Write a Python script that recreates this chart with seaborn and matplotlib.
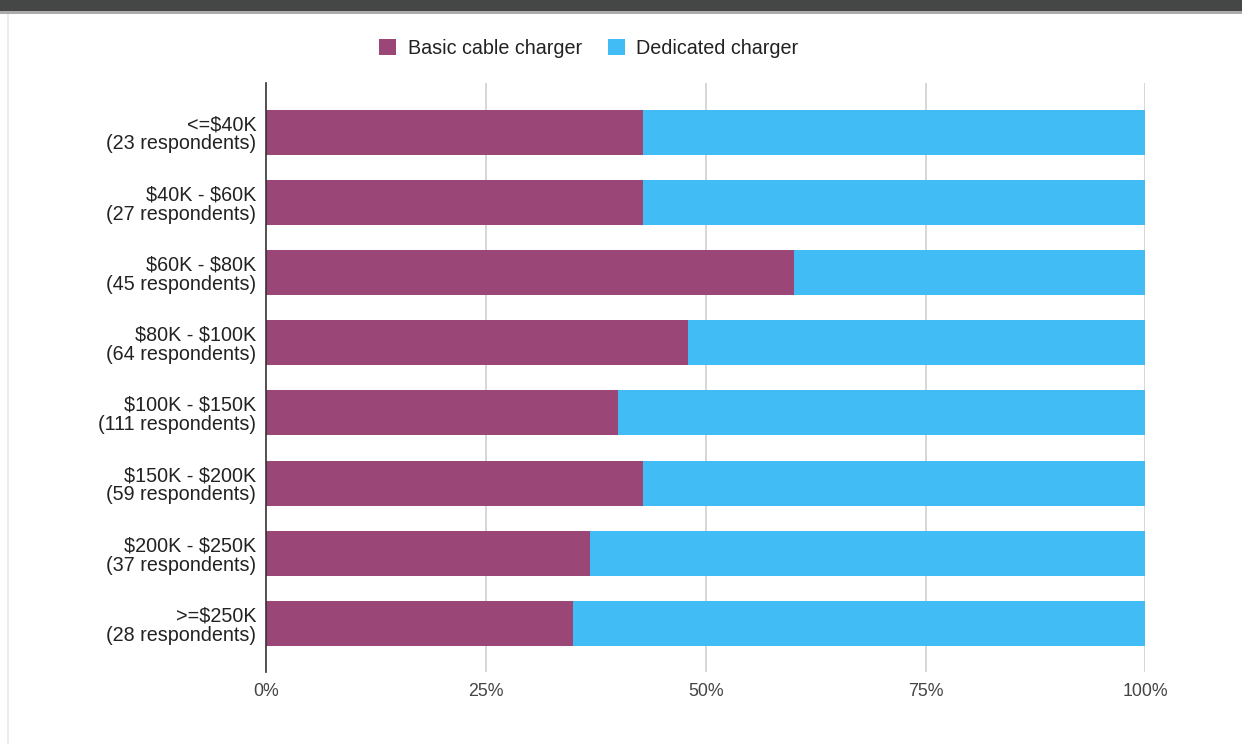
import matplotlib
matplotlib.use("Agg")
import matplotlib.pyplot as plt
from matplotlib.patches import Rectangle, Patch
from matplotlib.ticker import FuncFormatter
import seaborn as sns
import pandas as pd

# Survey results: share of each charger type by household income bracket
income_brackets = ["<=$40K", "$40K - $60K", "$60K - $80K", "$80K - $100K",
                   "$100K - $150K", "$150K - $200K", "$200K - $250K", ">=$250K"]
respondents = [23, 27, 45, 64, 111, 59, 37, 28]
basic_pct = [42.9, 42.9, 60.0, 48.0, 40.0, 42.9, 36.9, 34.9]
dedicated_pct = [57.1, 57.1, 40.0, 52.0, 60.0, 57.1, 63.1, 65.1]
x_ticks = [0, 25, 50, 75, 100]

series_names = ["Basic cable charger", "Dedicated charger"]
PURPLE = "#9a4677"
CYAN = "#42bcf5"

labels = [f"{b}\n({n} respondents)" for b, n in zip(income_brackets, respondents)]
df = pd.DataFrame({
    "label": labels,
    "basic": basic_pct,
    "dedicated": dedicated_pct,
})
df["stack_top"] = df["basic"] + df["dedicated"]

sns.set_theme(style="white")
plt.rcParams["font.family"] = ["Liberation Sans", "DejaVu Sans"]
plt.rcParams["text.parse_math"] = False

W, H = 1242, 744
fig = plt.figure(figsize=(W / 100, H / 100), dpi=100)
fig.patch.set_facecolor("white")

# page chrome: dark header strip and light frame edge
fig.add_artist(Rectangle((0, 1 - 11 / H), 1, 11 / H, transform=fig.transFigure,
                         facecolor="#454746", edgecolor="none", zorder=5))
fig.add_artist(Rectangle((0, 1 - 14 / H), 1, 3 / H, transform=fig.transFigure,
                         facecolor="#ababab", edgecolor="none", zorder=5))
fig.add_artist(Rectangle((7 / W, 0), 2 / W, 1 - 14 / H, transform=fig.transFigure,
                         facecolor="#ececec", edgecolor="none", zorder=5))

x0, x1 = 266, 1145.4
y_top, y_bot = 83, 672
ax = fig.add_axes([x0 / W, 1 - y_bot / H, (x1 - x0) / W, (y_bot - y_top) / H])

sns.barplot(data=df, y="label", x="stack_top", orient="h", color=CYAN,
            width=0.64, saturation=1, linewidth=0, ax=ax, zorder=2)
sns.barplot(data=df, y="label", x="basic", orient="h", color=PURPLE,
            width=0.64, saturation=1, linewidth=0, ax=ax, zorder=3)

ax.set_xlim(0, 100)
ax.set_ylim(7.69, -0.70)
ax.set_xticks(x_ticks)
ax.xaxis.set_major_formatter(FuncFormatter(lambda v, _: f"{v:.0f}%"))
ax.set_xlabel("")
ax.set_ylabel("")

for v in x_ticks[1:]:
    ax.axvline(v, color="#d6d6d6", lw=1.4, zorder=1)

for s in ["top", "right", "bottom"]:
    ax.spines[s].set_visible(False)
ax.spines["left"].set_color("#333333")
ax.spines["left"].set_linewidth(1.2)
ax.spines["left"].set_zorder(4)

ax.tick_params(axis="y", length=0, pad=7, labelsize=14.2, labelcolor="#222222")
ax.tick_params(axis="x", length=0, pad=8, labelsize=12.8, labelcolor="#444444")
for t in ax.get_yticklabels():
    t.set_linespacing(1.02)

handles = [Patch(facecolor=PURPLE, edgecolor="none"),
           Patch(facecolor=CYAN, edgecolor="none")]
fig.legend(handles, series_names, loc="center", bbox_to_anchor=(589 / W, 1 - 48 / H),
           ncol=2, frameon=False, fontsize=14.2, handlelength=0.85, handleheight=0.85,
           handletextpad=0.6, columnspacing=1.3, labelcolor="#222222")

fig.savefig("out.png", dpi=100, facecolor="white")
